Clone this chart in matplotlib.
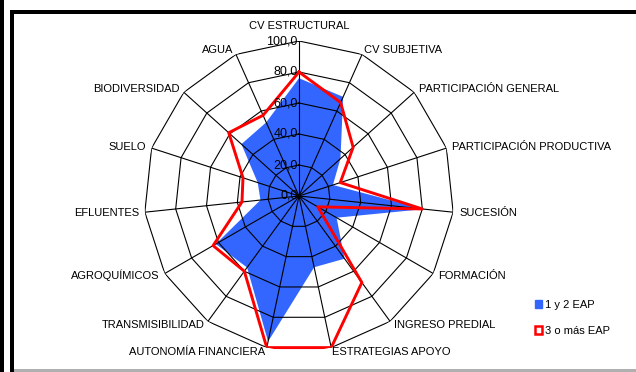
import numpy as np
import matplotlib.pyplot as plt
from matplotlib.patches import Patch, Rectangle

plt.rcParams['font.family'] = ['Liberation Sans', 'DejaVu Sans']

categories = ["CV ESTRUCTURAL", "CV SUBJETIVA", "PARTICIPACIÓN GENERAL",
              "PARTICIPACIÓN PRODUCTIVA", "SUCESIÓN", "FORMACIÓN",
              "INGRESO PREDIAL", "ESTRATEGIAS APOYO", "AUTONOMÍA FINANCIERA",
              "TRANSMISIBILIDAD", "AGROQUÍMICOS", "EFLUENTES", "SUELO",
              "BIODIVERSIDAD", "AGUA"]
eap_1_2 = [76, 70, 36, 23, 81, 28, 50, 47, 96, 57, 62, 25, 28, 50, 52]
eap_3_mas = [80, 66, 47, 28, 80, 14, 69, 100, 100, 60, 64, 37, 38, 61, 57]
levels = [0, 20, 40, 60, 80, 100]
level_labels = ["0,0", "20,0", "40,0", "60,0", "80,0", "100,0"]

W, H = 636, 372
fig = plt.figure(figsize=(W / 100, H / 100), dpi=100)
fig.patch.set_facecolor("white")

# outer frame pieces (cropped Excel chart)
def px_rect(x0, y0, w, h, color):
    fig.add_artist(Rectangle((x0 / W, 1 - (y0 + h) / H), w / W, h / H,
                             transform=fig.transFigure, color=color, lw=0))

px_rect(0, 0, 4, H, "black")
px_rect(10, 9.5, W - 10, 4, "black")
px_rect(10, 9.5, 4, H, "black")
px_rect(14, 369, W - 14, 2.5, "#b0b0b0")

cx, cy, R = 299, 196, 155
ax = fig.add_axes([(cx - R) / W, (H - cy - R) / H, 2 * R / W, 2 * R / H],
                  projection="polar")
ax.set_theta_zero_location("N")
ax.set_theta_direction(-1)
ax.set_ylim(0, 100)
ax.axis("off")

n = len(categories)
angles = np.linspace(0, 2 * np.pi, n, endpoint=False)
ang_c = np.append(angles, angles[0])

# blue area
ax.fill(ang_c, eap_1_2 + eap_1_2[:1], color="#3366ff", lw=0, zorder=1)

# grid polygons and spokes
for lv in levels[1:]:
    ax.plot(ang_c, [lv] * (n + 1), color="black", lw=0.8, zorder=2)
for a in angles:
    ax.plot([a, a], [0, 100], color="black", lw=0.8, zorder=2)

# red series
ax.plot(ang_c, eap_3_mas + eap_3_mas[:1], color="#ff0000", lw=2.1, zorder=3)

# radial labels
for lv, lab in zip(levels, level_labels):
    ax.annotate(lab, xy=(0, lv), xytext=(-1, 0), textcoords="offset points",
                ha="right", va="center", fontsize=9, color="black", zorder=4)

# category labels
for a, lab in zip(angles, categories):
    s, c = np.sin(a), np.cos(a)
    if s > 0.05:
        ha = "left"
    elif s < -0.05:
        ha = "right"
    else:
        ha = "center"
    if c > 0.99:
        va, off = "bottom", (0, 7.5)
    else:
        va, off = "center", (4.3 * s, 3.2 * c)
    ax.annotate(lab, xy=(a, 100), xytext=off,
                textcoords="offset points", ha=ha, va=va, fontsize=8,
                annotation_clip=False)

handles = [Patch(facecolor="#3366ff", edgecolor="#3366ff", label="1 y 2 EAP"),
           Patch(facecolor="white", edgecolor="#ff0000", lw=1.8, label="3 o más EAP")]
fig.legend(handles=handles, loc="upper left", bbox_to_anchor=(529 / W, 1 - 294 / H),
           frameon=False, fontsize=8, handlelength=0.7, handleheight=0.7,
           handletextpad=0.2, labelspacing=1.45, borderpad=0)

fig.savefig("out.png", dpi=100)
